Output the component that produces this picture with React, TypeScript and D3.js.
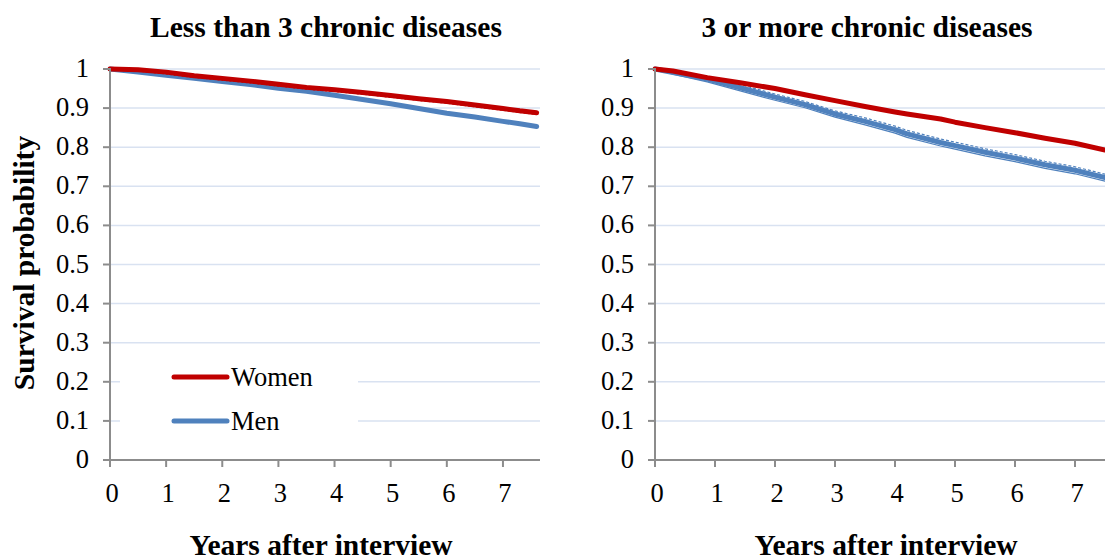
import React from "react";
import * as d3 from "d3";

// Kaplan–Meier style survival estimates, by sex and chronic-disease burden
const yTicks = [0, 0.1, 0.2, 0.3, 0.4, 0.5, 0.6, 0.7, 0.8, 0.9, 1];
const xTicks = [0, 1, 2, 3, 4, 5, 6, 7];
const yTickLabels = ["0", "0.1", "0.2", "0.3", "0.4", "0.5", "0.6", "0.7", "0.8", "0.9", "1"];

const panelTitles = ["Less than 3 chronic diseases", "3 or more chronic diseases"];
const legendLabels = ["Women", "Men"];

// Less than 3 chronic diseases
const lowYears = [0, 0.5, 1, 1.5, 2, 2.5, 3, 3.5, 4, 4.5, 5, 5.5, 6, 6.5, 7, 7.3, 7.6];
const lowWomen = [1, 0.998, 0.992, 0.983, 0.976, 0.969, 0.961, 0.953, 0.947, 0.94, 0.932, 0.924, 0.917, 0.908, 0.899, 0.893, 0.888];
const lowWomenLower = [1, 0.995, 0.988, 0.979, 0.972, 0.965, 0.957, 0.949, 0.943, 0.936, 0.928, 0.92, 0.913, 0.904, 0.895, 0.889, 0.884];
const lowMen = [1, 0.992, 0.984, 0.976, 0.968, 0.96, 0.951, 0.943, 0.933, 0.922, 0.911, 0.899, 0.887, 0.877, 0.866, 0.86, 0.853];

// 3 or more chronic diseases
const highYears = [0, 0.3, 0.87, 1.42, 2, 2.5, 3, 3.5, 4, 4.2, 4.76, 5, 5.5, 6, 6.5, 7, 7.5, 7.7];
const highWomen = [1, 0.995, 0.978, 0.965, 0.95, 0.934, 0.919, 0.904, 0.89, 0.885, 0.872, 0.864, 0.85, 0.837, 0.823, 0.81, 0.793, 0.786];
const highMen = [1, 0.991, 0.974, 0.952, 0.928, 0.909, 0.885, 0.866, 0.845, 0.834, 0.812, 0.804, 0.787, 0.772, 0.755, 0.741, 0.722, 0.714];
const highMenUpper = [1, 0.995, 0.981, 0.96, 0.936, 0.917, 0.893, 0.875, 0.854, 0.843, 0.821, 0.813, 0.796, 0.781, 0.764, 0.75, 0.731, 0.723];
const highMenLower = [1, 0.987, 0.967, 0.944, 0.92, 0.901, 0.877, 0.857, 0.836, 0.825, 0.803, 0.795, 0.778, 0.763, 0.746, 0.732, 0.713, 0.705];

const RED = "#c00000";
const BLUE = "#4f81bd";
const GRID = "#d9e2f1";
const AXIS = "#8c8c8c";
const FONT = "'Liberation Serif', 'Times New Roman', serif";
const TITLE_SIZE = 29.5;
const LABEL_SIZE = 26.5;

const W = 1105;
const H = 560;

type Pt = [number, number];
const zip = (xs: number[], ys: number[]): Pt[] => xs.map((x, i) => [x, ys[i]]);

interface PanelProps {
  x0: number;
  x1: number;
  plotRight: number;
  title: string;
  titleX: number;
  labelRight: number;
  axisTitleX: number;
  children: (x: d3.ScaleLinear<number, number>, y: d3.ScaleLinear<number, number>) => React.ReactNode;
  legend?: boolean;
}

const y = d3.scaleLinear().domain([0, 1]).range([460, 69]);

function Panel({ x0, x1, plotRight, title, titleX, labelRight, axisTitleX, children, legend }: PanelProps) {
  const x = d3.scaleLinear().domain([0, 7.66]).range([x0, x1]);
  return (
    <g>
      <text x={titleX} y={37} textAnchor="middle" fontFamily={FONT} fontWeight="bold" fontSize={TITLE_SIZE}>
        {title}
      </text>
      {yTicks.slice(1).map((t) => (
        <line key={t} x1={x0} x2={plotRight} y1={y(t)} y2={y(t)} stroke={GRID} strokeWidth={1.5} />
      ))}
      {legend && (
        <g>
          <rect x={120} y={358} width={238} height={84} fill="#fff" />
          {legendLabels.map((lab, i) => (
            <g key={lab}>
              <line
                x1={174}
                x2={227}
                y1={377 + i * 44}
                y2={377 + i * 44}
                stroke={i === 0 ? RED : BLUE}
                strokeWidth={5}
                strokeLinecap="round"
              />
              <text x={231} y={386 + i * 44} fontFamily={FONT} fontSize={LABEL_SIZE}>
                {lab}
              </text>
            </g>
          ))}
        </g>
      )}
      {children(x, y)}
      {/* axes */}
      <line x1={x0} x2={x0} y1={y(1) - 1} y2={y(0) + 1} stroke={AXIS} strokeWidth={2} />
      <line x1={x0 - 7} x2={plotRight} y1={y(0)} y2={y(0)} stroke={AXIS} strokeWidth={2} />
      {yTicks.map((t, i) => (
        <g key={t}>
          <line x1={x0 - 7} x2={x0} y1={y(t)} y2={y(t)} stroke={AXIS} strokeWidth={2} />
          <text x={labelRight} y={y(t) + 8} textAnchor="end" fontFamily={FONT} fontSize={LABEL_SIZE}>
            {yTickLabels[i]}
          </text>
        </g>
      ))}
      {xTicks.map((t) => (
        <g key={t}>
          <line x1={x(t)} x2={x(t)} y1={y(0)} y2={y(0) + 7} stroke={AXIS} strokeWidth={2} />
          <text x={x(t) + 2} y={502} textAnchor="middle" fontFamily={FONT} fontSize={LABEL_SIZE}>
            {t}
          </text>
        </g>
      ))}
      <text x={axisTitleX} y={555} textAnchor="middle" fontFamily={FONT} fontWeight="bold" fontSize={TITLE_SIZE}>
        Years after interview
      </text>
    </g>
  );
}

export default function App() {
  const line = (x: d3.ScaleLinear<number, number>, yy: d3.ScaleLinear<number, number>) =>
    d3
      .line<Pt>()
      .x((d) => x(d[0]))
      .y((d) => yy(d[1]))
      .curve(d3.curveLinear);

  return (
    <svg width={W} height={H} style={{ position: "absolute", left: 0, top: 0, background: "#fff" }}>
      <defs>
        <clipPath id="plot-clip">
          <rect x={0} y={0} width={W} height={H} />
        </clipPath>
      </defs>
      <rect width={W} height={H} fill="#fff" />
      <text
        transform="translate(34,263) rotate(-90)"
        textAnchor="middle"
        fontFamily={FONT}
        fontWeight="bold"
        fontSize={TITLE_SIZE}
      >
        Survival probability
      </text>

      <Panel
        x0={110}
        x1={540}
        plotRight={540}
        title={panelTitles[0]}
        titleX={326}
        labelRight={89}
        axisTitleX={321}
        legend
      >
        {(x, yy) => {
          const l = line(x, yy);
          return (
            <g>
              <path d={l(zip(lowYears, lowMen)) ?? ""} fill="none" stroke={BLUE} strokeWidth={5} strokeLinecap="round" strokeLinejoin="round" />
              <path d={l(zip(lowYears, lowWomen)) ?? ""} fill="none" stroke={RED} strokeWidth={5} strokeLinecap="round" strokeLinejoin="round" />
              <path d={l(zip(lowYears, lowWomenLower)) ?? ""} fill="none" stroke={RED} strokeWidth={1.5} strokeDasharray="2 2" />
            </g>
          );
        }}
      </Panel>

      <Panel
        x0={655}
        x1={655 + 7.66 * 60}
        plotRight={W}
        title={panelTitles[1]}
        titleX={867}
        labelRight={634}
        axisTitleX={886}
      >
        {(x, yy) => {
          const l = line(x, yy);
          return (
            <g clipPath="url(#plot-clip)">
              <path d={l(zip(highYears, highMenUpper)) ?? ""} fill="none" stroke={BLUE} strokeWidth={1.2} strokeDasharray="3 2" />
              <path d={l(zip(highYears, highMenLower)) ?? ""} fill="none" stroke={BLUE} strokeWidth={1.2} />
              <path d={l(zip(highYears, highMen)) ?? ""} fill="none" stroke={BLUE} strokeWidth={5} strokeLinecap="round" strokeLinejoin="round" />
              <path d={l(zip(highYears, highWomen)) ?? ""} fill="none" stroke={RED} strokeWidth={5} strokeLinecap="round" strokeLinejoin="round" />
            </g>
          );
        }}
      </Panel>
    </svg>
  );
}
